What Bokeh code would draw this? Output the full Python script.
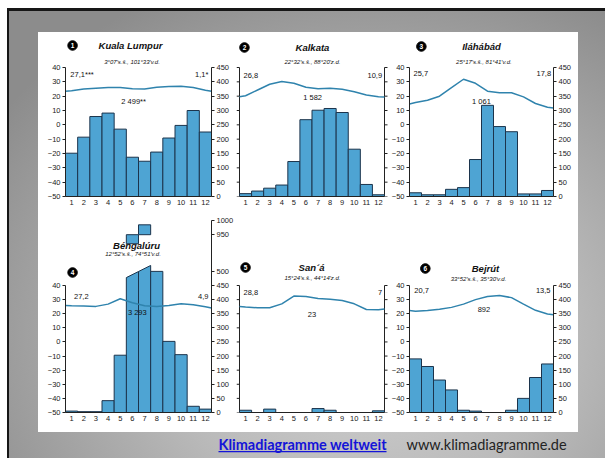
from bokeh.plotting import figure
from bokeh.models import Range1d, LinearAxis, FixedTicker, Label
from bokeh.layouts import row, column
from bokeh.embed import file_html
from bokeh.resources import INLINE
from bokeh.core.properties import value

# ---------------- data ----------------
months = list(range(1, 13))
temp_x = [0.5] + months + [12.5]          # temperature curve read at frame edges + month centres
t_ticks = [40, 30, 20, 10, 0, -10, -20, -30, -40, -50]
r_ticks = [0, 50, 100, 150, 200, 250, 300, 350, 400, 450]

kl_temp = [23.4, 23.7, 25.0, 25.6, 26.0, 26.0, 25.2, 25.0, 26.2, 26.7, 26.9, 26.0, 24.1, 23.4]
kl_rain = [151, 207, 279, 291, 235, 137, 123, 155, 204, 248, 300, 225]
kol_temp = [19.6, 20.3, 24.3, 28.3, 30.2, 29.0, 26.2, 25.2, 25.5, 24.8, 23.1, 20.8, 19.6, 19.4]
kol_rain = [10, 19, 29, 40, 122, 268, 301, 307, 293, 165, 42, 6]
all_temp = [14.6, 15.6, 17.2, 20.0, 26.0, 31.8, 29.0, 23.5, 22.4, 22.4, 19.5, 14.9, 12.3, 11.8]
all_rain = [13, 6, 6, 25, 31, 129, 318, 244, 226, 9, 9, 21]
ben_temp = [25.9, 25.6, 25.4, 25.2, 26.8, 30.6, 27.8, 25.6, 25.2, 25.9, 27.0, 26.4, 25.0, 24.0]
ben_rain = [5, 3, 3, 42, 203, 950, 985, 500, 252, 205, 22, 12]
san_temp = [25.2, 24.7, 24.2, 24.2, 27.0, 32.5, 32.2, 30.8, 30.3, 29.4, 27.0, 23.0, 22.8, 23.3]
san_rain = [8, 0, 12, 0, 0, 0, 14, 8, 0, 0, 0, 6]
bey_temp = [22.2, 21.7, 22.2, 23.1, 24.5, 26.8, 30.0, 32.2, 32.9, 31.4, 26.8, 22.4, 19.8, 19.3]
bey_rain = [190, 163, 115, 80, 8, 5, 0, 0, 8, 50, 124, 172]

# broken precipitation axis of panel 4 (Béngalúru)
ben_break_lo = 500          # continuous scale ends
ben_break_shift = 320       # 950 mm is drawn where 630 mm would be
ben_cut = (478, 521)        # slanted cut of the tall bars (left / right)
ben_stub_base = [918, 950]  # lower ends of the bar tops shown above the break
ben_extra_ticks = {630: "950", 680: "1000"}

# ---------------- style ----------------
FONT = "Liberation Sans"
BAR_FILL = "#4ea4d3"
BAR_LINE = "#1c344c"
TEMP_COL = "#2f83ad"
AX_COL = "#222222"

ROW1 = dict(height=180, bb=16, t40_px=35, px_per_deg=129 / 90)
ROW2 = dict(height=220, bb=20, t40_px=73, px_per_deg=127 / 90)


def top_t(rw):
    frame_h = rw["height"] - rw["bb"]
    return -50 + frame_h / rw["px_per_deg"]


def ty(rw, page_y, fig_top):
    return 40 + ((fig_top + rw["t40_px"]) - page_y) / rw["px_per_deg"]


def style_axis(ax, tick=3):
    ax.axis_line_color = AX_COL
    ax.axis_line_width = 1
    ax.major_tick_line_color = AX_COL
    ax.major_tick_out = tick
    ax.major_tick_in = 0
    ax.minor_tick_out = 0
    ax.minor_tick_in = 0
    ax.major_label_text_font = FONT
    ax.major_label_text_color = "#1a1a1a"
    ax.major_label_text_font_size = "7.5px"
    ax.major_label_standoff = 2


def make_axis(kind):
    if kind == "T":
        ax = LinearAxis(ticker=FixedTicker(ticks=t_ticks, minor_ticks=[]), bounds=(-50, 40))
    elif kind == "R":
        ax = LinearAxis(y_range_name="R", ticker=FixedTicker(ticks=r_ticks, minor_ticks=[]), bounds=(0, 450))
    else:  # broken R axis
        ticks = r_ticks + [ben_break_lo] + list(ben_extra_ticks.keys())
        ax = LinearAxis(y_range_name="R", ticker=FixedTicker(ticks=ticks, minor_ticks=[]),
                        bounds=(0, max(ben_extra_ticks.keys())),
                        major_label_overrides=dict(ben_extra_ticks))
    style_axis(ax)
    return ax


def txt(p, x, y, s, size="8px", align="center", style="normal", color="#111111", font=FONT):
    p.text(x=[x], y=[y], text=[s], text_font=value(font), text_font_size=value(size),
           text_font_style=style, text_align=align, text_baseline="middle", text_color=color)


def lab(p, x, y, s, size="7.5px"):
    p.add_layout(Label(x=x, y=y, text=s, text_font=FONT, text_font_size=size, text_align="center",
                       text_baseline="middle", text_color="#111111"))


def panel(rw, fig_top, width, lb, rb, left_kind, right_kind, temp, rain, num, title, coords,
          ann_l, ann_r, ann_c, pos, units, broken=False):
    tt = top_t(rw)
    frame_w = width - lb - rb
    ppm = frame_w / 12.0
    # middle panels: no labelled axes, the frame is widened by the border pixels on both sides
    if left_kind is None:
        xr = Range1d(0.5 - lb / ppm, 12.5 + rb / ppm)
        mbl, mbr = 0, 0
    else:
        xr = Range1d(0.5, 12.5)
        mbl, mbr = lb, rb
    p = figure(width=width, height=rw["height"], x_range=xr, y_range=Range1d(-50, tt),
               output_backend="svg", toolbar_location=None, x_axis_type=None, y_axis_type=None,
               min_border_left=mbl, min_border_right=mbr, min_border_top=0, min_border_bottom=rw["bb"])
    p.extra_y_ranges = {"R": Range1d(0, (tt + 50) * 5)}
    p.outline_line_color = None
    p.background_fill_color = "white"
    p.border_fill_color = "white"

    xa = LinearAxis(ticker=FixedTicker(ticks=months, minor_ticks=[]), bounds=(0.5, 12.5))
    style_axis(xa, tick=0)
    xa.major_label_standoff = 3
    p.add_layout(xa, "below")
    if left_kind is not None:
        p.add_layout(make_axis(left_kind), "left")
        p.add_layout(make_axis(right_kind), "right")
    else:
        tk = 3 / ppm
        p.segment(x0=[0.5], y0=[-50], x1=[0.5], y1=[40], line_color=AX_COL, line_width=1)
        p.segment(x0=[12.5], y0=[-50], x1=[12.5], y1=[40], line_color=AX_COL, line_width=1)
        p.segment(x0=[0.5 - tk] * len(r_ticks), y0=r_ticks, x1=[0.5] * len(r_ticks), y1=r_ticks,
                  y_range_name="R", line_color=AX_COL, line_width=1)
        p.segment(x0=[12.5] * len(t_ticks), y0=t_ticks, x1=[12.5 + tk] * len(t_ticks), y1=t_ticks,
                  line_color=AX_COL, line_width=1)

    if broken:
        xs = [m for m, v in zip(months, rain) if v <= ben_break_lo]
        vs = [v for v in rain if v <= ben_break_lo]
        big = [(m, v) for m, v in zip(months, rain) if v > ben_break_lo]
        x_lo, x_hi = big[0][0] - 0.5, big[-1][0] + 0.5
        slope = (ben_cut[1] - ben_cut[0]) / (x_hi - x_lo)
        for (m, v), sb in zip(big, ben_stub_base):
            a = ben_cut[0] + slope * (m - 0.5 - x_lo)
            b = ben_cut[0] + slope * (m + 0.5 - x_lo)
            p.patch([m - 0.5, m + 0.5, m + 0.5, m - 0.5], [0, 0, b, a], y_range_name="R",
                    fill_color=BAR_FILL, line_color=BAR_LINE, line_width=1)
            p.quad(left=[m - 0.5], right=[m + 0.5], bottom=[sb - ben_break_shift],
                   top=[v - ben_break_shift], y_range_name="R",
                   fill_color=BAR_FILL, line_color=BAR_LINE, line_width=1)
    else:
        xs, vs = months, rain
    p.vbar(x=xs, top=vs, bottom=0, width=1, y_range_name="R",
           fill_color=BAR_FILL, line_color=BAR_LINE, line_width=1)
    p.line(temp_x, temp, line_color=TEMP_COL, line_width=1.5)

    Y = lambda py: ty(rw, py, fig_top)
    p.scatter(x=[pos["num"][0]], y=[Y(pos["num"][1])], size=9.5, marker="circle",
              fill_color="black", line_color="black")
    txt(p, pos["num"][0], Y(pos["num"][1]) - 0.2, num, size="6.5px", style="bold", color="white")
    txt(p, pos["title"][0], Y(pos["title"][1]), title, size="9.5px", style="bold italic")
    txt(p, pos["coords"][0], Y(pos["coords"][1]), coords, size="6px", style="italic")
    txt(p, pos["l"][0], Y(pos["l"][1]), ann_l, size="7.5px", align="left")
    txt(p, pos["r"][0], Y(pos["r"][1]), ann_r, size="7.5px", align="right")
    txt(p, pos["c"][0], Y(pos["c"][1]), ann_c, size="7.5px")
    for (ux, uy1, uy2, a, b) in units:
        lab(p, ux, Y(uy1), a)
        lab(p, ux, Y(uy2), b)
    return p


R1, R2 = 32, 212
f1 = panel(ROW1, R1, 198, 27, 25, "T", "R", kl_temp, kl_rain, "1", "Kuala Lumpur",
           "3°07′s.š., 101°33′v.d.", "27,1***", "1,1*", "2 499**",
           dict(num=(1.08, 45), title=(5.84, 45), coords=(5.97, 61), l=(0.9, 74), r=(12.25, 74), c=(6.1, 101)),
           [(-0.57, 44, 53, "T", "(°C)"), (13.86, 46, 55, "R", "(mm)")])
f2 = panel(ROW1, R1, 152, 3, 4, None, None, kol_temp, kol_rain, "2", "Kalkata",
           "22°32′s.š., 88°20′z.d.", "26,8", "10,9", "1 582",
           dict(num=(0.91, 47), title=(6.54, 47), coords=(6.54, 61), l=(0.83, 75), r=(12.3, 75), c=(6.55, 97)),
           [])
f3 = panel(ROW1, R1, 190, 19, 25, "T", "R", all_temp, all_rain, "3", "Iláhábád",
           "25°17′s.š., 81°41′v.d.", "25,7", "17,8", "1 061",
           dict(num=(1.49, 46), title=(6.5, 46), coords=(6.7, 61), l=(0.83, 73), r=(12.3, 73), c=(6.5, 101)),
           [(-0.49, 45, 53, "T", "(°C)"), (13.73, 47, 55, "R", "(mm)")])
f4 = panel(ROW2, R2, 198, 27, 25, "T", "RB", ben_temp, ben_rain, "4", "Béngalúru",
           "12°52′s.š., 74°51′v.d.", "27,2", "4,9", "3 293",
           dict(num=(1.08, 272), title=(6.34, 245), coords=(6.05, 253), l=(1.2, 296), r=(12.25, 296), c=(6.4, 312)),
           [(-0.57, 268, 276, "T", "(°C)"), (13.86, 253, 262, "R", "(mm)")], broken=True)
f5 = panel(ROW2, R2, 152, 3, 4, None, None, san_temp, san_rain, "5", "San´á",
           "15°24′s.š., 44°14′z.d.", "28,8", "7", "23",
           dict(num=(1.0, 267), title=(6.46, 267), coords=(6.54, 277), l=(0.83, 292), r=(12.3, 292), c=(6.5, 314)),
           [])
f6 = panel(ROW2, R2, 190, 19, 25, "T", "R", bey_temp, bey_rain, "6", "Bejrút",
           "33°52′s.š., 35°30′v.d.", "20,7", "13,5", "892",
           dict(num=(1.82, 268), title=(6.83, 268), coords=(6.25, 278), l=(0.9, 290), r=(12.25, 290), c=(6.7, 309)),
           [(-0.49, 265, 272, "T", "(°C)"), (13.73, 258, 267, "R", "(mm)")])

# footer
ft = figure(width=540, height=26, x_range=Range1d(0, 540), y_range=Range1d(0, 26),
            output_backend="svg", toolbar_location=None, x_axis_type=None, y_axis_type=None,
            min_border=0, margin=(0, 0, 0, 29))
ft.outline_line_color = None
ft.background_fill_alpha = 0
ft.border_fill_alpha = 0
ft.text(x=[180], y=[14], text=["Klimadiagramme weltweit"], text_font=value("Lato"),
        text_font_size=value("14.5px"), text_font_style="bold", text_color="#1414d8",
        text_align="left", text_baseline="middle")
ft.segment(x0=[180], y0=[6.8], x1=[348], y1=[6.8], line_color="#1414d8", line_width=1.2)
ft.text(x=[368], y=[14], text=["www.klimadiagramme.de"], text_font=value("Lato"),
        text_font_size=value("14.5px"), text_color="#232323", text_align="left", text_baseline="middle")

white = column(row(f1, f2, f3), row(f4, f5, f6), margin=(21, 0, 0, 29),
               styles={"background-color": "white"})
outer = column(white, ft, width=598, height=450, margin=(8, 0, 0, 7),
               styles={"background": "radial-gradient(ellipse 75% 85% at 60% 72%, #d2d2d2 0%, #bababa 45%, #8c8c8c 100%)",
                       "border-top": "3px solid #161616", "border-left": "2px solid #161616"})

open("out.html", "w").write(file_html(outer, INLINE))
